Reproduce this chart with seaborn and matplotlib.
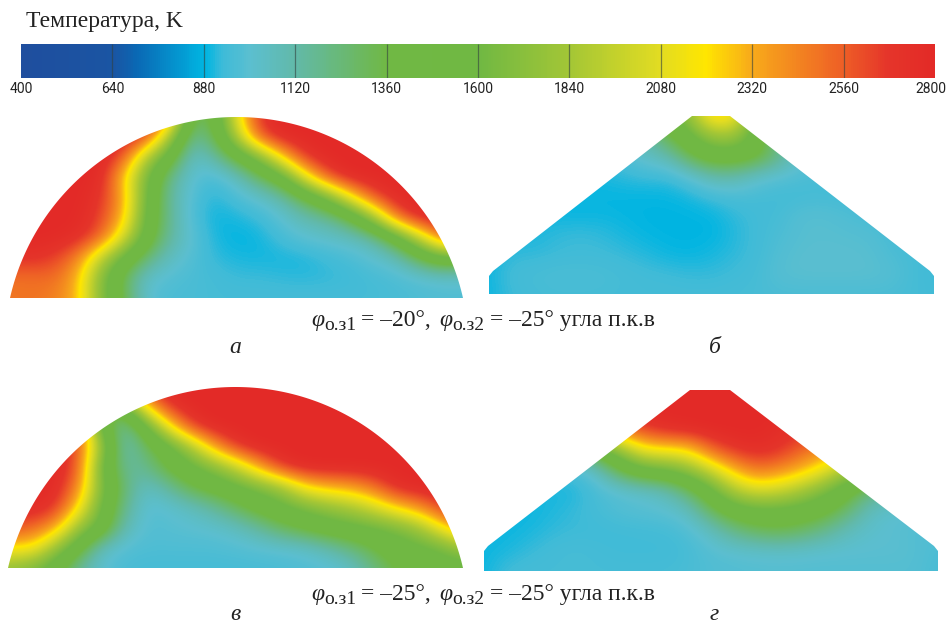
import numpy as np
import matplotlib
matplotlib.use("Agg")
import matplotlib.pyplot as plt
from matplotlib.colors import LinearSegmentedColormap
from matplotlib.patches import Polygon
from matplotlib.transforms import ScaledTranslation
import seaborn as sns

sns.set_theme(style="white")
plt.rcParams['font.family'] = ['Liberation Serif', 'DejaVu Serif']

# colour scale as printed on the strip
scale_ticks = [400, 640, 880, 1120, 1360, 1600, 1840, 2080, 2320, 2560, 2800]
scale_temps = [400, 640, 700, 880, 930, 1000, 1120, 1360, 1600, 1840, 2080, 2200, 2320, 2560, 2680, 2800]
scale_colors = ["#1f4e9e", "#1a55a3", "#0a68b4", "#00b5e2", "#3fbbd8", "#5bbfd0", "#62b9a8", "#70b844",
                "#70b843", "#a3c636", "#e2dc22", "#ffe600", "#f8ab1a", "#ee5f26", "#e5352a", "#e32a27"]

# panel a, temperatures on a coarse grid, top row first
field_a = [
    [2800, 2800, 2800, 2800, 2800, 2800, 2800, 2500, 1300, 1350, 2100, 2700, 2800, 2800, 2800, 2800, 2800, 2800, 2800, 2800, 2800],
    [2800, 2800, 2800, 2800, 2800, 2800, 2650, 1900, 1150, 1300, 1900, 2600, 2800, 2800, 2800, 2800, 2800, 2800, 2800, 2800, 2800],
    [2800, 2800, 2800, 2800, 2800, 2600, 1900, 1500, 1020, 1120, 1400, 1700, 2250, 2700, 2800, 2800, 2800, 2800, 2800, 2800, 2800],
    [2800, 2800, 2800, 2800, 2780, 2250, 1650, 1200, 1000, 950, 1050, 1280, 1500, 2100, 2600, 2800, 2800, 2800, 2800, 2800, 2800],
    [2800, 2800, 2800, 2800, 2700, 2350, 1600, 1150, 980, 900, 960, 1020, 1120, 1350, 1650, 2150, 2600, 2780, 2800, 2800, 2800],
    [2800, 2800, 2800, 2790, 2650, 2300, 1550, 1180, 960, 890, 900, 930, 1000, 1100, 1150, 1350, 1800, 2500, 2790, 2800, 2800],
    [2800, 2800, 2790, 2750, 2550, 2050, 1500, 1150, 1000, 900, 880, 890, 950, 1000, 1030, 1050, 1130, 1450, 1950, 2500, 2700],
    [2700, 2720, 2650, 2450, 1950, 1550, 1250, 1050, 980, 920, 900, 895, 895, 900, 930, 960, 1000, 1060, 1300, 1550, 1500],
    [2500, 2500, 2520, 2300, 1700, 1300, 1020, 980, 960, 950, 930, 930, 920, 915, 920, 930, 950, 960, 980, 1000, 1000],
    [2480, 2500, 2450, 2300, 1700, 1350, 1000, 960, 960, 950, 950, 950, 950, 950, 950, 950, 950, 960, 970, 980, 980],
]

# panel b
field_b = [
    [1500, 1500, 1500, 1500, 1500, 1500, 1500, 1500, 1500, 1800, 2300, 2200, 1500, 1500, 1500, 1500, 1500, 1500, 1500, 1500, 1500],
    [1100, 1100, 1100, 1100, 1100, 1100, 1100, 1100, 1350, 1550, 1800, 1800, 1450, 1100, 1100, 1100, 1100, 1100, 1100, 1100, 1100],
    [950, 950, 950, 950, 950, 950, 960, 1050, 1100, 1350, 1500, 1500, 1420, 1200, 1000, 1000, 1000, 1000, 1000, 1000, 1000],
    [900, 900, 900, 900, 900, 900, 920, 930, 930, 1000, 1120, 1120, 1020, 990, 970, 960, 950, 950, 950, 950, 950],
    [890, 890, 890, 890, 890, 885, 885, 885, 885, 900, 940, 960, 950, 940, 940, 945, 940, 940, 940, 940, 940],
    [900, 900, 900, 890, 885, 890, 885, 880, 880, 880, 885, 920, 940, 950, 990, 990, 970, 950, 940, 940, 940],
    [900, 900, 900, 920, 930, 920, 900, 885, 880, 880, 880, 910, 940, 965, 990, 995, 990, 985, 950, 940, 940],
    [890, 920, 920, 930, 935, 935, 925, 910, 890, 885, 900, 920, 940, 980, 1000, 1000, 1000, 995, 965, 950, 940],
    [890, 945, 955, 965, 965, 960, 950, 940, 935, 925, 925, 935, 950, 990, 1000, 1000, 1000, 1000, 985, 950, 930],
    [890, 930, 945, 950, 950, 950, 945, 945, 945, 945, 945, 950, 955, 960, 960, 960, 960, 960, 960, 950, 940],
]

# panel v
field_v = [
    [2800, 2800, 2800, 2800, 2800, 2800, 2700, 2800, 2800, 2800, 2800, 2800, 2800, 2800, 2800, 2800, 2800, 2800, 2800, 2800, 2800],
    [1500, 1500, 1500, 1500, 1500, 1400, 2250, 2700, 2800, 2800, 2800, 2800, 2800, 2800, 2800, 2800, 2800, 2800, 2800, 2800, 2800],
    [2800, 2800, 2800, 2700, 1500, 1100, 1500, 2150, 2650, 2800, 2800, 2800, 2800, 2800, 2800, 2800, 2800, 2800, 2800, 2800, 2800],
    [2800, 2800, 2800, 2600, 1850, 1050, 1280, 1500, 1850, 2350, 2700, 2800, 2800, 2800, 2800, 2800, 2800, 2800, 2800, 2800, 2800],
    [2800, 2800, 2800, 2600, 1600, 1150, 1180, 1400, 1550, 1700, 1950, 2350, 2700, 2800, 2800, 2800, 2800, 2800, 2800, 2800, 2800],
    [2800, 2800, 2780, 2450, 1700, 1250, 1030, 1150, 1350, 1450, 1550, 1650, 1800, 2180, 2300, 2350, 2500, 2750, 2800, 2800, 2800],
    [2750, 2780, 2700, 2220, 1600, 1200, 980, 1000, 1050, 1150, 1300, 1450, 1550, 1650, 1750, 1850, 2000, 2230, 2400, 2650, 2800],
    [2600, 2550, 2350, 1800, 1550, 1100, 980, 990, 1000, 1010, 1050, 1150, 1300, 1400, 1500, 1550, 1600, 1650, 1800, 2150, 2450],
    [2200, 2200, 1800, 1450, 1050, 980, 970, 970, 970, 970, 980, 990, 1000, 1020, 1100, 1220, 1350, 1500, 1550, 1600, 1800],
    [1750, 1650, 1450, 1150, 1000, 960, 950, 950, 950, 950, 950, 955, 960, 970, 980, 1020, 1200, 1350, 1450, 1500, 1500],
]

# panel g
field_g = [
    [2800, 2800, 2800, 2800, 2800, 2800, 2800, 2800, 2800, 2800, 2800, 2800, 2800, 2800, 2800, 2800, 2800, 2800, 2800, 2800, 2800],
    [2800, 2800, 2800, 2800, 2800, 2800, 2800, 2800, 2800, 2800, 2800, 2800, 2800, 2800, 2800, 2800, 2800, 2800, 2800, 2800, 2800],
    [1500, 1500, 1500, 1500, 1800, 2200, 2500, 2650, 2750, 2780, 2800, 2800, 2800, 2750, 2700, 2700, 2700, 2700, 2700, 2700, 2700],
    [1200, 1200, 1200, 1200, 1200, 1500, 1800, 2150, 2180, 2220, 2550, 2700, 2750, 2700, 2550, 2400, 2400, 2400, 2400, 2400, 2400],
    [950, 950, 950, 950, 950, 1050, 1350, 1550, 1600, 1750, 2000, 2300, 2500, 2420, 2300, 2120, 1800, 1800, 1800, 1800, 1800],
    [900, 900, 900, 900, 900, 960, 990, 1020, 1080, 1280, 1550, 1900, 2050, 2000, 1850, 1650, 1450, 1200, 1200, 1200, 1200],
    [890, 890, 890, 905, 925, 950, 980, 990, 1000, 1050, 1300, 1480, 1550, 1550, 1500, 1420, 1250, 1050, 1000, 1000, 1000],
    [890, 890, 900, 920, 930, 930, 935, 940, 945, 970, 1050, 1200, 1300, 1330, 1280, 1180, 1060, 1010, 1000, 980, 980],
    [890, 900, 925, 945, 955, 945, 935, 935, 935, 950, 985, 1000, 1010, 1020, 1010, 1000, 1000, 1000, 1000, 990, 960],
    [890, 940, 950, 950, 950, 950, 950, 950, 950, 960, 975, 980, 985, 985, 985, 985, 985, 985, 985, 985, 950],
]

title_text = "Температура, K"
caption_top = ["–20°", "–25°"]
caption_bottom = ["–25°", "–25°"]
panel_letters = ["а", "б", "в", "г"]

W, H = 948, 626
cmap = LinearSegmentedColormap.from_list(
    "temp", [((t - 400) / 2400, c) for t, c in zip(scale_temps, scale_colors)], N=512)

fig = plt.figure(figsize=(W / 100, H / 100), dpi=100, facecolor="white")

# strip with the colour scale
ax_bar = fig.add_axes([21 / W, 1 - 78 / H, 914 / W, 34 / H])
n = 480
strip = np.linspace(400, 2800, n).reshape(1, -1)
sns.heatmap(strip, ax=ax_bar, cmap=cmap, vmin=400, vmax=2800, cbar=False, xticklabels=False, yticklabels=False)
pos = [(t - 400) / 2400 * n for t in scale_ticks]
ax_bar.vlines(pos[1:-1], 0, 1, color="#33413f", lw=0.9, alpha=0.6)
ax_bar.set_xticks(pos)
ax_bar.set_xticklabels(scale_ticks, fontsize=10, color="#222222", family=["Roboto", "Liberation Sans"])
ax_bar.tick_params(axis="x", length=0, pad=3, bottom=True)
# last label sits against the edge of the page
last = ax_bar.get_xticklabels()[-1]
last.set_transform(last.get_transform() + ScaledTranslation(-4 / 100, 0, fig.dpi_scale_trans))

# one axes in pixel coordinates for the four fields
ax = fig.add_axes([0, 0, 1, 1], zorder=-1)


def dome(x0, x1, top, bottom):
    half = (x1 - x0) / 2
    h = bottom - top
    r = (half ** 2 + h ** 2) / (2 * h)
    a = np.arcsin(half / r) if h < r else np.pi - np.arcsin(half / r)
    th = np.linspace(-a, a, 200)
    return np.column_stack([(x0 + x1) / 2 + r * np.sin(th), top + r - r * np.cos(th)])


def roof(x0, x1, top, bottom, tx0, tx1, shoulder):
    return np.array([[x0, bottom], [x0, shoulder + 5], [x0 + 4, shoulder], [tx0, top], [tx1, top],
                     [x1 - 4, shoulder], [x1, shoulder + 5], [x1, bottom]])


def draw_field(field, outline, x0, x1, top, bottom):
    data = np.array(field, dtype=float)
    dx = (x1 - x0) / (data.shape[1] - 1)
    dy = (bottom - top) / (data.shape[0] - 1)
    im = ax.imshow(data, cmap=cmap, vmin=400, vmax=2800, aspect="auto", interpolation="bicubic",
                   interpolation_stage="data",
                   extent=(x0 - dx / 2, x1 + dx / 2, bottom + dy / 2, top - dy / 2))
    patch = Polygon(outline, closed=True, transform=ax.transData, fc="none", ec="none")
    ax.add_patch(patch)
    im.set_clip_path(patch)


draw_field(field_a, dome(10, 463, 117, 298), 10, 463, 117, 298)
draw_field(field_b, roof(489, 934, 116, 294, 692, 730, 271), 489, 936, 116, 294)
draw_field(field_v, dome(8, 463, 387, 568), 10, 463, 387, 568)
draw_field(field_g, roof(484, 938, 390, 571, 690, 730, 546), 484, 938, 390, 571)
ax.set_xlim(0, W)
ax.set_ylim(H, 0)
ax.axis("off")


def put(x, y, s, **kw):
    kw.setdefault("color", "#222222")
    ax.text(x, y, s, va="baseline", ha="left", **kw)


put(26, 27, title_text, fontsize=17)


def caption(y, vals):
    put(311, y, "φ", fontsize=17, style="italic")
    put(324, y + 4, "о.з1", fontsize=14)
    put(361, y, "= " + vals[0] + ",", fontsize=17)
    put(439, y, "φ", fontsize=17, style="italic")
    put(452, y + 4, "о.з2", fontsize=14)
    put(490, y, "= " + vals[1] + " угла п.к.в", fontsize=17)


caption(326, caption_top)
caption(600, caption_bottom)

for (x, y), s in zip([(229, 353), (709, 353), (230, 620), (710, 620)], panel_letters):
    put(x, y, s, fontsize=17, style="italic")

fig.savefig("out.png", dpi=100)
